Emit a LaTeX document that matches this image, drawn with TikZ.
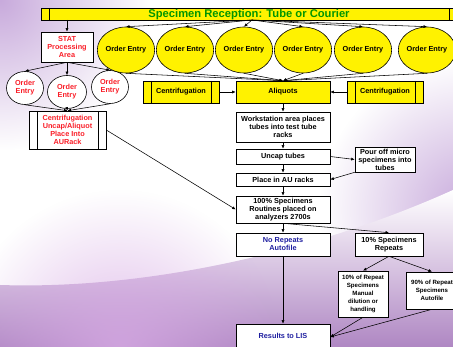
\documentclass[tikz,border=0pt]{standalone}
\usepackage{fontspec}
\setmainfont{Liberation Sans}
\usetikzlibrary{shapes.geometric,arrows.meta,fadings}
\definecolor{bannergreen}{RGB}{0,150,0}
\definecolor{redtxt}{RGB}{250,30,40}
\definecolor{bluetxt}{RGB}{30,30,160}
\definecolor{bgpurple}{RGB}{175,135,195}
\definecolor{bgpink}{RGB}{215,170,228}
\definecolor{bgpurplelight}{RGB}{200,170,220}
\tikzfading[name=softglow, inner color=transparent!0, outer color=transparent!100]
\tikzset{
  txt/.style={font=\fontsize{7.3}{8}\selectfont\bfseries},
  smalltxt/.style={font=\fontsize{6.1}{8}\selectfont\bfseries},
  box/.style={draw=black, line width=0.6pt, fill=white, inner sep=0pt, align=center, txt},
  ybox/.style={box, fill=yellow},
  proc/.style={path picture={\draw[line width=0.6pt]
      ([xshift=8pt]path picture bounding box.north west) -- ([xshift=8pt]path picture bounding box.south west)
      ([xshift=-8pt]path picture bounding box.north east) -- ([xshift=-8pt]path picture bounding box.south east);}},
  yell/.style={ellipse, draw=black, line width=0.6pt, fill=yellow, inner sep=0pt, minimum width=50pt, minimum height=46pt, txt},
  wcirc/.style={ellipse, draw=black, line width=0.6pt, fill=white, inner sep=0pt, minimum width=37pt, minimum height=33pt, align=center, txt, text=redtxt},
  arr/.style={-{Latex[length=3.5pt,width=3pt]}, line width=0.55pt}
}
\begin{document}
\begin{tikzpicture}[x=1pt,y=-1pt]
\useasboundingbox (0,0) rectangle (453,347);
\clip (0,0) rectangle (453,347);
% background
\fill[white] (0,0) rectangle (453,347);
\fill[bgpurplelight, path fading=softglow] (0,0) circle (150);
\fill[bgpurplelight, path fading=softglow] (470,210) circle (150);
\shade[top color=white, bottom color=bgpurple] (0,347) -- (0,285) .. controls (150,290) and (320,250) .. (453,190) -- (453,347) -- cycle;
\fill[bgpink, path fading=softglow, opacity=0.8] (120,350) circle (160);

% banner
\node[ybox, proc, minimum width=416pt, minimum height=12pt, text height=8pt, text depth=0pt, text=bannergreen, font=\fontsize{11.2}{12}\selectfont\bfseries] (banner) at (249,14) {Specimen Reception: Tube or Courier};
\coordinate (bstat) at (67,20);
\coordinate (bmid) at (252,20);

% STAT side
\node[box, text=redtxt, minimum width=52pt, minimum height=30pt] (stat) at (67,47) {STAT\\Processing\\Area};
\node[wcirc] (c1) at (25,88) {Order\\Entry};
\node[wcirc, minimum width=39pt] (c2) at (67,92) {Order\\Entry};
\node[wcirc] (c3) at (110,87) {Order\\Entry};
\node[box, proc, text=redtxt, minimum width=77pt, minimum height=38pt] (aurack) at (67.5,130) {Centrifugation\\Uncap/Aliquot\\Place Into\\AURack};

% yellow order entries
\node[yell] (e1) at (126,50) {Order Entry};
\node[yell] (e2) at (185,50) {Order Entry};
\node[yell] (e3) at (244,50) {Order Entry};
\node[yell] (e4) at (303,50) {Order Entry};
\node[yell] (e5) at (363,50) {Order Entry};
\node[yell] (e6) at (427,50) {Order Entry};

% centrifugation / aliquots
\node[ybox, proc, minimum width=76pt, minimum height=22pt] (cenl) at (181,92) {Centrifugation};
\node[ybox, minimum width=94pt, minimum height=22pt] (aliq) at (283,92) {Aliquots};
\node[ybox, proc, minimum width=76pt, minimum height=22pt] (cenr) at (385,92) {Centrifugation};

% main column
\node[box, minimum width=94pt, minimum height=30pt] (work) at (283,127) {Workstation area places\\tubes into test tube\\racks};
\node[box, minimum width=94pt, minimum height=15pt] (uncap) at (283,156.5) {Uncap tubes};
\node[box, minimum width=60pt, minimum height=25pt] (pour) at (385,159.5) {Pour off micro\\specimens into\\tubes};
\node[box, minimum width=94pt, minimum height=13pt] (place) at (283,179.5) {Place in AU racks};
\node[box, minimum width=94pt, minimum height=27pt] (routine) at (283,209.5) {100\% Specimens\\Routines placed on\\analyzers 2700s};
\node[box, text=bluetxt, minimum width=94pt, minimum height=23pt] (norep) at (283,244.5) {No Repeats\\Autofile};
\node[box, minimum width=68pt, minimum height=23pt] (rep) at (389,244.5) {10\% Specimens\\Repeats};
\node[box, smalltxt, minimum width=50pt, minimum height=46pt] (manual) at (363,294) {10\% of Repeat\\Specimens\\Manual\\dilution or\\handling};
\node[box, smalltxt, minimum width=52pt, minimum height=37pt] (auto) at (432,290.5) {90\% of Repeat\\Specimens\\Autofile};
\node[box, text=bluetxt, minimum width=94pt, minimum height=26pt, text depth=0pt] (lis) at (283,337) {\raisebox{2pt}{Results to LIS}};

% connectors: banner
\draw[arr] (bstat) -- (stat.north);
\foreach \e in {e1,e2,e3,e4,e5,e6} \draw[arr] (bmid) -- (\e.north);
% STAT fan
\foreach \c in {c1,c2,c3} {
  \draw[arr] (stat.south) -- (\c.north);
  \draw[arr] (\c.south) -- (aurack.north);
}
% ellipses to aliquots
\foreach \e in {e1,e2,e3,e4,e5,e6} \draw[arr] (\e.south) -- (aliq.north);
\draw[arr] (cenl) -- (aliq);
\draw[arr] (cenr) -- (aliq);
% main column
\draw[arr] (aliq) -- (work);
\draw[arr] (work) -- (uncap);
\draw[arr] (uncap) -- (place);
\draw[arr] (uncap.east) -- (pour.west);
\draw[arr] (pour.south west) -- (place.east);
\draw[arr] (place) -- (routine);
\draw[arr] (aurack.east) -- (routine.west);
\draw[arr] (routine.south) -- (norep.north);
\draw[arr] (routine.south) -- (rep.north);
\draw[arr] (rep.south) -- (manual.north);
\draw[arr] (rep.south) -- (auto.north);
\draw[arr] (norep) -- (lis);
\draw[arr] (manual.south) -- (lis.east);
\draw[arr] (auto.south) -- (lis.east);
\end{tikzpicture}
\end{document}
